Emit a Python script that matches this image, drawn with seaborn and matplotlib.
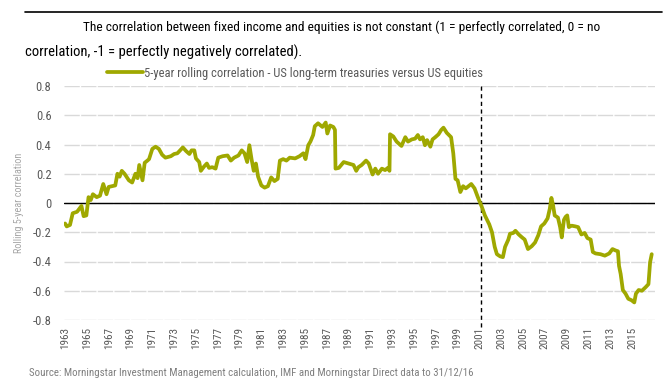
import numpy as np
import pandas as pd
import seaborn as sns
import matplotlib
matplotlib.use("Agg")
from matplotlib import pyplot as plt
from matplotlib.lines import Line2D
from matplotlib import font_manager

# dates as decimal years
years = [
    1963.00, 1963.15, 1963.45, 1963.70, 1964.10, 1964.50, 1964.70, 1964.95, 1965.15, 1965.35,
    1965.55, 1965.90, 1966.20, 1966.50, 1966.80, 1967.00, 1967.60, 1967.80, 1968.00, 1968.20,
    1968.45, 1968.85, 1969.15, 1969.45, 1969.65, 1969.80, 1970.10, 1970.30, 1970.55, 1970.70,
    1971.00, 1971.30, 1971.60, 1971.90, 1972.20, 1972.70, 1973.00, 1973.30, 1973.80, 1974.10,
    1974.40, 1974.60, 1974.85, 1975.00, 1975.30, 1975.45, 1975.75, 1976.00, 1976.20, 1976.50,
    1976.80, 1977.05, 1977.45, 1977.90, 1978.20, 1978.50, 1978.90, 1979.20, 1979.45, 1979.70,
    1979.90, 1980.10, 1980.30, 1980.50, 1980.70, 1981.00, 1981.30, 1981.60, 1981.90, 1982.20,
    1982.50, 1982.70, 1983.00, 1983.30, 1983.60, 1984.10, 1984.50, 1984.85, 1985.05, 1985.30,
    1985.50, 1985.75, 1985.90, 1986.20, 1986.60, 1986.90, 1987.05, 1987.30, 1987.60, 1987.75,
    1987.80, 1988.10, 1988.55, 1989.00, 1989.45, 1989.70, 1989.90, 1990.20, 1990.60, 1990.85,
    1991.20, 1991.45, 1991.70, 1992.05, 1992.35, 1992.60, 1992.75, 1992.80, 1993.10, 1993.40,
    1993.85, 1994.20, 1994.45, 1994.80, 1995.10, 1995.35, 1995.55, 1995.80, 1996.00, 1996.20,
    1996.50, 1996.70, 1996.95, 1997.25, 1997.50, 1997.70, 1998.00, 1998.40, 1998.60, 1998.80,
    1999.00, 1999.25, 1999.50, 1999.75, 2000.00, 2000.25, 2000.55, 2000.85, 2001.20, 2001.50,
    2001.90, 2002.15, 2002.40, 2002.60, 2002.90, 2003.15, 2003.35, 2003.65, 2003.80, 2004.10,
    2004.30, 2004.60, 2004.90, 2005.15, 2005.45, 2005.80, 2006.10, 2006.40, 2006.65, 2006.95,
    2007.25, 2007.45, 2007.60, 2007.75, 2007.90, 2008.20, 2008.40, 2008.55, 2008.75, 2008.90,
    2009.05, 2009.20, 2009.45, 2009.80, 2010.05, 2010.35, 2010.65, 2010.90, 2011.20, 2011.40,
    2011.65, 2012.10, 2012.50, 2012.90, 2013.20, 2013.50, 2013.70, 2013.80, 2013.95, 2014.15,
    2014.40, 2014.65, 2014.95, 2015.20, 2015.35, 2015.60, 2015.90, 2016.25, 2016.50, 2016.65,
    2016.80,
]
correlation = [
    -0.14, -0.16, -0.15, -0.07, -0.06, -0.02, -0.09, -0.085, 0.04, 0.02,
    0.06, 0.04, 0.05, 0.13, 0.06, 0.11, 0.12, 0.20, 0.18, 0.22,
    0.20, 0.155, 0.14, 0.20, 0.17, 0.26, 0.155, 0.275, 0.29, 0.30,
    0.37, 0.385, 0.37, 0.33, 0.31, 0.32, 0.335, 0.34, 0.38, 0.355,
    0.335, 0.36, 0.36, 0.305, 0.28, 0.22, 0.25, 0.27, 0.24, 0.245,
    0.235, 0.31, 0.32, 0.325, 0.29, 0.31, 0.325, 0.36, 0.34, 0.28,
    0.395, 0.30, 0.22, 0.27, 0.18, 0.12, 0.105, 0.115, 0.175, 0.15,
    0.165, 0.29, 0.30, 0.29, 0.31, 0.305, 0.32, 0.34, 0.30, 0.395,
    0.42, 0.465, 0.525, 0.545, 0.52, 0.55, 0.475, 0.53, 0.52, 0.50,
    0.235, 0.24, 0.28, 0.27, 0.26, 0.22, 0.245, 0.26, 0.29, 0.27,
    0.195, 0.235, 0.20, 0.235, 0.225, 0.24, 0.22, 0.47, 0.455, 0.42,
    0.39, 0.45, 0.42, 0.435, 0.44, 0.465, 0.435, 0.45, 0.395, 0.43,
    0.385, 0.435, 0.45, 0.47, 0.50, 0.515, 0.48, 0.45, 0.34, 0.165,
    0.155, 0.075, 0.115, 0.10, 0.115, 0.13, 0.10, 0.04, -0.023, -0.085,
    -0.146, -0.20, -0.30, -0.35, -0.365, -0.37, -0.30, -0.25, -0.21, -0.205,
    -0.19, -0.215, -0.235, -0.25, -0.315, -0.295, -0.27, -0.22, -0.16, -0.14,
    -0.105, -0.04, 0.035, -0.015, -0.085, -0.10, -0.165, -0.235, -0.115, -0.095,
    -0.085, -0.165, -0.155, -0.16, -0.165, -0.215, -0.205, -0.24, -0.25, -0.335,
    -0.345, -0.35, -0.36, -0.345, -0.315, -0.325, -0.33, -0.43, -0.485, -0.595,
    -0.62, -0.655, -0.665, -0.68, -0.62, -0.595, -0.60, -0.575, -0.555, -0.405,
    -0.35,
]
tick_years = list(range(1963, 2016, 2))
y_ticks = [0.8, 0.6, 0.4, 0.2, 0, -0.2, -0.4, -0.6, -0.8]
y_labels = ["0.8", "0.6", "0.4", "0.2", "0", "-0.2", "-0.4", "-0.6", "-0.8"]
break_year = 2001.1

series_label = "5-year rolling correlation - US long-term treasuries versus US equities"
title_1 = "The correlation between fixed income and equities is not constant (1 = perfectly correlated, 0 = no"
title_2 = "correlation, -1 = perfectly negatively correlated)."
source = "Source: Morningstar Investment Management calculation, IMF and Morningstar Direct data to 31/12/16"

df = pd.DataFrame({"year": years, "corr": correlation})

sns.set_style("white")
# narrow face if there is one, else DejaVu condensed
names = {f.name for f in font_manager.fontManager.ttflist}
narrow = [n for n in ["Liberation Sans Narrow", "Roboto Condensed", "Open Sans Condensed"] if n in names]
plt.rcParams['font.family'] = narrow + ['DejaVu Sans']
plt.rcParams['font.stretch'] = 'condensed'

fig = plt.figure(figsize=(6.7, 3.9), dpi=100)
ax = fig.add_axes([64/670, 1 - 320/390, (655-64)/670, (320-86)/390])

olive = "#9fa800"
sns.lineplot(data=df, x="year", y="corr", ax=ax, color=olive, linewidth=2.7,
             estimator=None, sort=False, label=series_label)

ax.set_xlim(1962.9, 2017.1)
ax.set_ylim(-0.8, 0.8)

for yv in y_ticks:
    ax.axhline(yv, color="#d9d9d9", linewidth=1, linestyle=(0, (11, 1)), zorder=0)
ax.axhline(0, color="black", linewidth=1, zorder=1)
ax.axvline(break_year, ymin=-0.03, ymax=1, color="black", linewidth=1,
           linestyle=(0, (3, 2.5)), clip_on=False, zorder=1)

ax.set_yticks(y_ticks)
ax.set_yticklabels(y_labels, fontsize=9, color="#595959")
ax.set_xticks(tick_years)
ax.set_xticklabels([str(t) for t in tick_years], rotation=90, fontsize=8, color="#595959")
ax.tick_params(axis="both", length=0)
ax.tick_params(axis="y", pad=9)
ax.tick_params(axis="x", pad=5)
ax.set_xlabel("")
ax.set_ylabel("Rolling 5-year correlation", fontsize=7.3, color="#a6a6a6", labelpad=6)
for s in ax.spines.values():
    s.set_visible(False)

ax.legend(loc="center left", bbox_to_anchor=(107/670, 1 - 73/390), bbox_transform=fig.transFigure,
          frameon=False, fontsize=9, handlelength=2.9, handletextpad=0.1,
          borderpad=0, borderaxespad=0, labelcolor="#595959")

fig.add_artist(Line2D([25/670, 662/670], [1 - 11.7/390] * 2, color="black", linewidth=1.2,
                      transform=fig.transFigure))
fig.text(83/670, 1 - 27/390, title_1, fontsize=9.6, color="black", va="center", ha="left")
fig.text(25/670, 1 - 52/390, title_2, fontsize=10.5, color="black", va="center", ha="left")
fig.text(29/670, 1 - 373/390, source, fontsize=7.8, color="#7f7f7f", va="center", ha="left")

fig.savefig("out.png", dpi=100)
